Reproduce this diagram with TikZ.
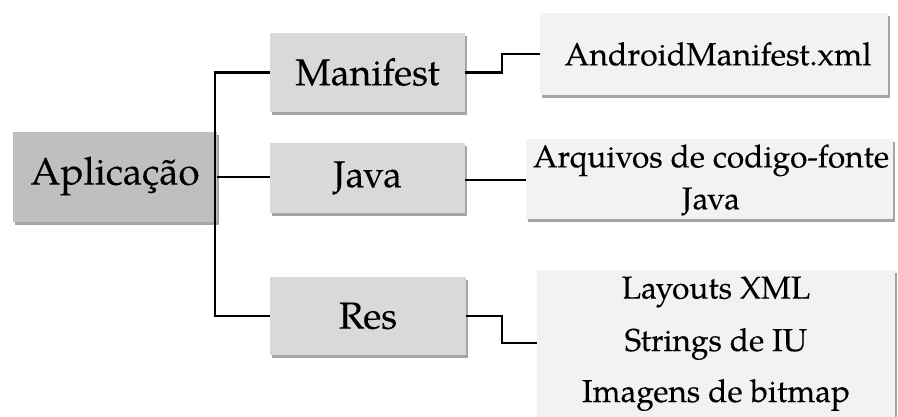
\documentclass[tikz,border=0pt]{standalone}
\usepackage{fontspec}
\setmainfont[FakeBold=0.2]{TeX Gyre Pagella}
\usetikzlibrary{shadows}
\definecolor{rootfill}{HTML}{BFBFBF}
\definecolor{midfill}{HTML}{D9D9D9}
\definecolor{leaffill}{HTML}{F2F2F2}
\tikzset{
  boxbase/.style={rectangle, draw=none, inner sep=0pt,
    drop shadow={shadow xshift=2pt, shadow yshift=-3pt, opacity=0.5, fill=black!70}},
  rootbox/.style={boxbase, fill=rootfill},
  midbox/.style={boxbase, fill=midfill},
  leafbox/.style={boxbase, fill=leaffill},
  lbl/.style={inner sep=0pt, align=center, text=black},
  conn/.style={line width=2.2pt, black}
}
\begin{document}
\begin{tikzpicture}[x=1pt,y=-1pt]
\useasboundingbox (0,0) rectangle (898,417);
% boxes
\node[rootbox, minimum width=204pt, minimum height=90pt] (app) at (115,177) {};
\node[midbox, minimum width=195pt, minimum height=79pt] (man) at (367.5,72.5) {};
\node[midbox, minimum width=195pt, minimum height=70pt] (jav) at (367.5,178) {};
\node[midbox, minimum width=196pt, minimum height=78pt] (res) at (368,316) {};
\node[leafbox, minimum width=348pt, minimum height=82pt] (amx) at (714,54) {};
\node[leafbox, minimum width=367pt, minimum height=80pt] (arq) at (709.5,179) {};
\node[leafbox, minimum width=358pt, minimum height=170pt] (rsl) at (716,355) {};
% labels
\node[lbl, font=\fontsize{38.5}{40}\selectfont] (tapp) at (115,176) {Aplicação};
\node[lbl, font=\fontsize{37.5}{40}\selectfont] (tman) at (367.5,72) {Manifest};
\node[lbl, font=\fontsize{37.5}{40}\selectfont] (tjav) at (367.5,178) {Java};
\node[lbl, font=\fontsize{37.5}{40}\selectfont] (tres) at (368,316) {Res};
\node[lbl, font=\fontsize{32}{35}\selectfont] (tamx) at (718,54) {AndroidManifest.xml};
\node[lbl, font=\fontsize{31.6}{42}\selectfont] (tarq) at (711,180) {Arquivos de codigo-fonte\\Java};
\node[lbl, font=\fontsize{31.6}{35}\selectfont] (tl1) at (716,292) {Layouts XML};
\node[lbl, font=\fontsize{31.6}{35}\selectfont] (tl2) at (716,344) {Strings de IU};
\node[lbl, font=\fontsize{31.6}{35}\selectfont] (tl3) at (716,395) {Imagens de bitmap};
% connectors
\coordinate (trunk) at (215,72.5);
\draw[conn] (man.west) -- (trunk) |- (res.west);
\draw[conn] (app.east) -- (jav.west |- app.east);
\draw[conn] (man.east) -- ++(37,0) |- (amx.west);
\draw[conn] (jav.east |- 0,180) -- (arq.west |- 0,180);
\draw[conn] (res.east) -- ++(36,0) |- (rsl.west |- 0,343);
\end{tikzpicture}
\end{document}
